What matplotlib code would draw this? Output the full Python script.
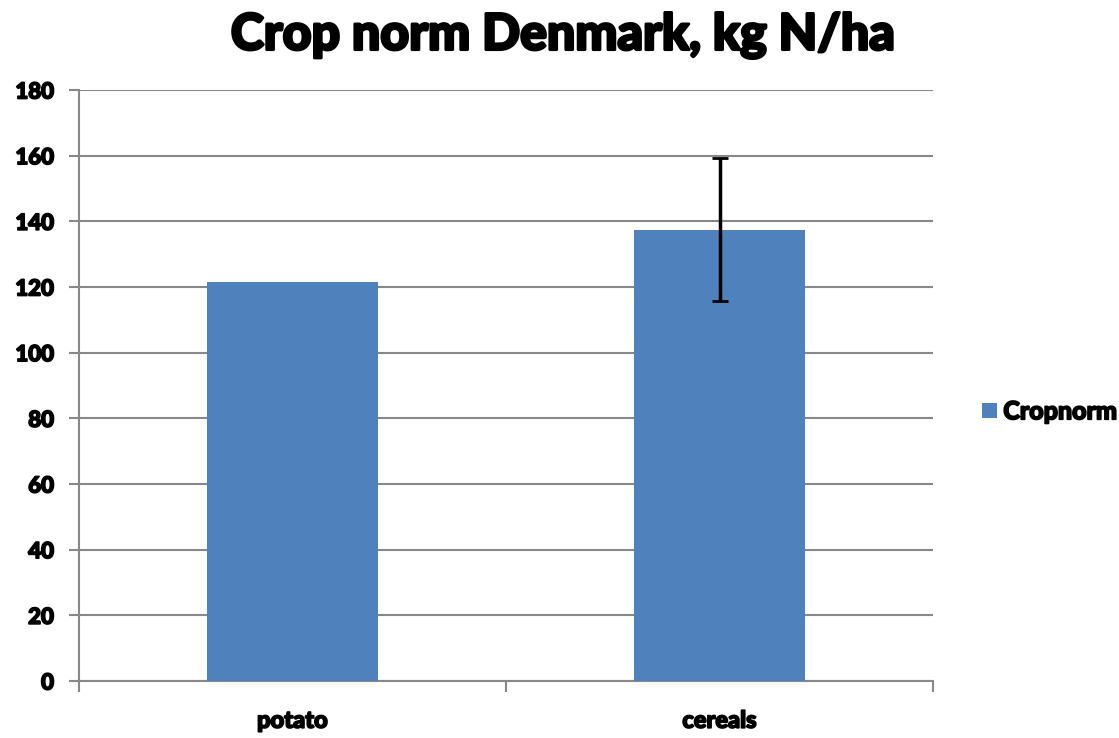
import numpy as np
import matplotlib.pyplot as plt
import matplotlib.patheffects as pe

# Данные
categories = ["potato", "cereals"]
cropnorm = [121.5, 137.5]
errors = [0, 21.8]
y_ticks = [0, 20, 40, 60, 80, 100, 120, 140, 160, 180]

plt.rcParams['font.family'] = ['Lato', 'DejaVu Sans']
thick = [pe.withStroke(linewidth=1.2, foreground='black')]

fig = plt.figure(figsize=(11.19, 7.38), dpi=100)
ax = fig.add_axes([0.0706, 0.0772, 0.7632, 0.8008])

x = np.arange(len(categories))
bars = ax.bar(x, cropnorm, width=0.40, color='#4f81bd', label='Cropnorm', zorder=3)
ax.errorbar(x[1], cropnorm[1], yerr=errors[1], fmt='none', ecolor='black',
            elinewidth=2.5, capsize=6, capthick=2, zorder=4)

ax.set_xlim(-0.5, 1.5)
ax.set_ylim(0, 180)
ax.set_yticks(y_ticks)
ax.set_yticklabels([str(v) for v in y_ticks], fontsize=16, fontweight='black')
ax.set_xticks(x)
ax.set_xticklabels(categories, fontsize=17, fontweight='black')
for t in ax.get_xticklabels() + ax.get_yticklabels():
    t.set_path_effects(thick)
ax.tick_params(axis='x', length=0, pad=20)
ax.tick_params(axis='y', length=7, width=1.5, color='#888888', pad=11)

# деления на границах категорий
ax.set_xticks([-0.5, 0.5, 1.5], minor=True)
ax.tick_params(axis='x', which='minor', length=8, width=1.5, color='#888888')

ax.grid(axis='y', color='#888888', linewidth=1.5, zorder=0)
for s in ['top', 'right']:
    ax.spines[s].set_visible(False)
for s in ['left', 'bottom']:
    ax.spines[s].set_color('#888888')
    ax.spines[s].set_linewidth(1.5)

title = fig.text(0.503, 0.952, "Crop norm Denmark, kg N/ha", ha='center', va='center',
                 fontsize=36, fontweight='black')
title.set_path_effects([pe.withStroke(linewidth=2, foreground='black')])

leg = fig.legend(handles=[bars], labels=['Cropnorm'], loc='center left',
                 bbox_to_anchor=(0.862, 0.442), frameon=False, handlelength=0.6,
                 handleheight=0.6, handletextpad=0.25, borderpad=0.2,
                 prop={'size': 18, 'weight': 'black'})
for t in leg.get_texts():
    t.set_path_effects(thick)

fig.savefig('out.png', dpi=100)
